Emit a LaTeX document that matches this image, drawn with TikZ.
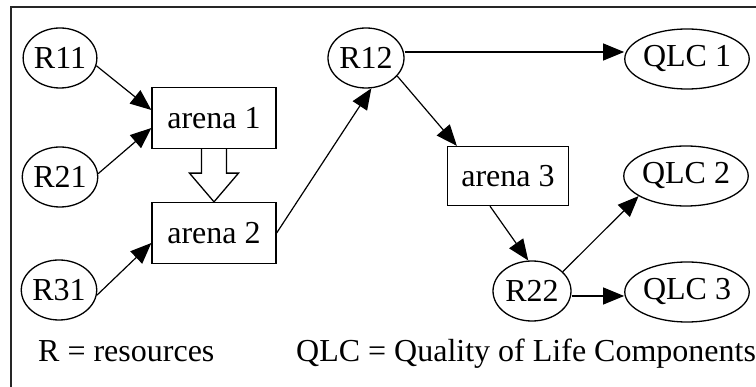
\documentclass[tikz,border=0pt]{standalone}
\usepackage{fontspec}
\setmainfont{Liberation Serif}
\usetikzlibrary{shapes.geometric,arrows.meta,calc}
\begin{document}
\begin{tikzpicture}[x=1pt,y=-1pt,
  every node/.style={font=\fontsize{32}{37}\selectfont},
  res/.style={ellipse,draw,line width=1.3pt,inner sep=0pt,minimum width=70pt,minimum height=60pt},
  qlc/.style={ellipse,draw,line width=1.3pt,inner sep=0pt,minimum width=118pt,minimum height=60pt},
  arenabox/.style={rectangle,draw,line width=1.3pt,inner sep=0pt,minimum width=124pt,minimum height=61pt},
  conn/.style={line width=1.2pt,-{Triangle[length=21pt,width=17pt]}},
  hollow/.style={draw,line width=1.3pt,fill=white,line join=miter}
]
\useasboundingbox (0,0) rectangle (756,387);
\draw[line width=1.6pt,black!85] (11,387) -- (11,7) -- (756,7);

\node[res] (R11) at (60,58) {R11};
\node[res] (R21) at (60,177) {R21};
\node[res] (R31) at (59,290) {R31};
\node[arenabox] (a1) at (214,118) {arena 1};
\node[arenabox] (a2) at (214,233) {arena 2};
\node[res,minimum width=76pt] (R12) at (366,58) {R12};
\node[arenabox,minimum width=121pt,minimum height=59pt] (a3) at (508,176) {arena 3};
\node[res,minimum width=78pt] (R22) at (532,291) {R22};
\node[qlc] (Q1) at (687,59) {QLC 1};
\node[qlc] (Q2) at (686,176) {QLC 2};
\node[qlc] (Q3) at (687,292) {QLC 3};

\node[anchor=base west,inner sep=0pt] (lr) at (38,362) {R = resources};
\node[anchor=base west,inner sep=0pt] (lq) at (296,362) {QLC = Quality of Life Components};

% hollow arrow arena 1 -> arena 2
\path[hollow] ($(a1.south)+(-12.5,0)$) -- ++(0,24) -- ++(-12,0)
  -- (a2.north) -- ($(a1.south)+(24.5,24)$) -- ++(-12,0) -- ($(a1.south)+(12.5,0)$);

\draw[conn] (R11.-12) -- ($(a1.west)+(0,-8)$);
\draw[conn] (R21.5) -- ($(a1.west)+(0,10)$);
\draw[conn] (R31.-8) -- ($(a2.west)+(0,10)$);
\draw[conn] (a2.east) -- (R12.-80);
\draw[conn] ($(R12.east)+(0,-6)$) -- ($(Q1.west)+(0,-7)$);
\draw[conn] (R12.-30) -- ($(a3.north west)+(10,0)$);
\draw[conn] ($(a3.south)+(-18,0)$) -- (R22.97);
\draw[conn] (R22.32) -- (Q2.-157);
\draw[conn] ($(R22.east)+(0,5)$) -- ($(Q3.west)+(0,4)$);
\end{tikzpicture}
\end{document}
